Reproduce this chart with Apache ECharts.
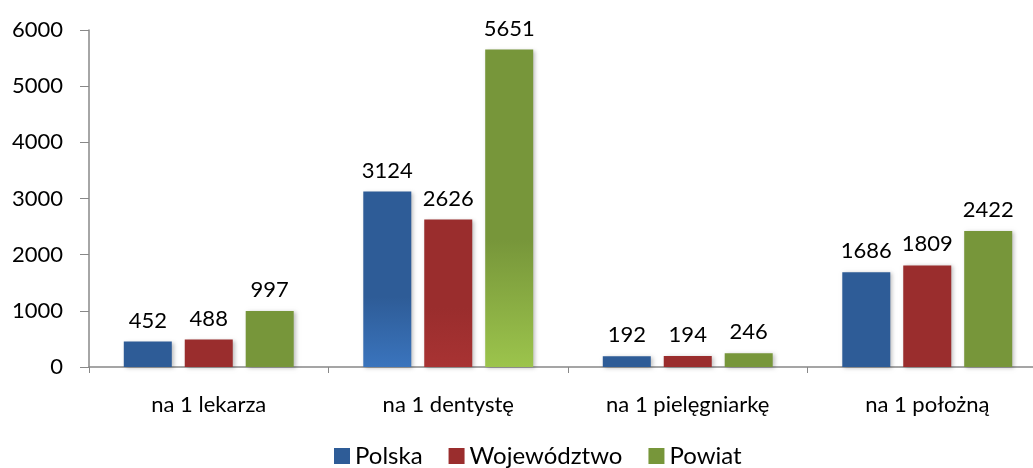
<!DOCTYPE html>
<html>
<head>
<meta charset="utf-8">
<script src="https://cdn.jsdelivr.net/npm/echarts@6/dist/echarts.min.js"></script>
<style>
  html, body { margin: 0; padding: 0; background: #fff; }
  #chart { width: 1033px; height: 468px; }
</style>
</head>
<body>
<div id="chart"></div>
<script>
const categories = ['na 1 lekarza', 'na 1 dentystę', 'na 1 pielęgniarkę', 'na 1 położną']
const polska = [452, 3124, 192, 1686]
const wojewodztwo = [488, 2626, 194, 1809]
const powiat = [997, 5651, 246, 2422]
const yTicks = [0, 1000, 2000, 3000, 4000, 5000, 6000]

const font = 'Lato, "Open Sans", sans-serif'

// tylko słupki "dentystę" mają rozjaśnienie u dołu
const grad = (top, bottom) => new echarts.graphic.LinearGradient(0, 0, 0, 1, [
  { offset: 0, color: top },
  { offset: 0.6, color: top },
  { offset: 1, color: bottom }
])

const makeSeries = (name, data, top, bottom) => ({
  name: name,
  type: 'bar',
  data: data.map((v, i) => i === 1
    ? { value: v, itemStyle: { color: grad(top, bottom) } }
    : v),
  barWidth: 48,
  barGap: '27%',
  itemStyle: {
    color: top,
    shadowColor: 'rgba(0, 0, 0, 0.25)',
    shadowBlur: 4,
    shadowOffsetX: 2,
    shadowOffsetY: 1
  },
  label: {
    show: true,
    position: 'top',
    distance: 10,
    color: '#000',
    fontFamily: font,
    fontSize: 22
  }
})

const chart = echarts.init(document.getElementById('chart'))
chart.setOption({
  animation: false,
  backgroundColor: '#fff',
  color: ['#2e5c97', '#9a2d2d', '#77963a'],
  grid: { left: 89, width: 958, top: 30, bottom: 101, outerBoundsMode: 'none' },
  legend: {
    top: 439,
    left: 329,
    icon: 'rect',
    itemWidth: 16,
    itemHeight: 16,
    itemGap: 26,
    textStyle: { fontFamily: font, fontSize: 24, color: '#000' },
    data: ['Polska', 'Województwo', 'Powiat']
  },
  xAxis: {
    type: 'category',
    data: categories,
    axisLine: { lineStyle: { color: '#888', width: 1.5 } },
    axisTick: { show: true, length: 6, lineStyle: { color: '#888' } },
    axisLabel: { margin: 27, color: '#000', fontFamily: font, fontSize: 22 }
  },
  yAxis: {
    type: 'value',
    min: yTicks[0],
    max: yTicks[yTicks.length - 1],
    interval: 1000,
    axisLine: { show: true, lineStyle: { color: '#888', width: 1.5 } },
    axisTick: { show: true, length: 9, lineStyle: { color: '#888' } },
    splitLine: { show: false },
    axisLabel: {
      margin: 26,
      color: '#000',
      fontFamily: font,
      fontSize: 22,
      formatter: v => String(v)
    }
  },
  series: [
    makeSeries('Polska', polska, '#2e5c97', '#3a74bd'),
    makeSeries('Województwo', wojewodztwo, '#9a2d2d', '#a83333'),
    makeSeries('Powiat', powiat, '#77963a', '#9cc44c')
  ]
})
</script>
</body>
</html>
